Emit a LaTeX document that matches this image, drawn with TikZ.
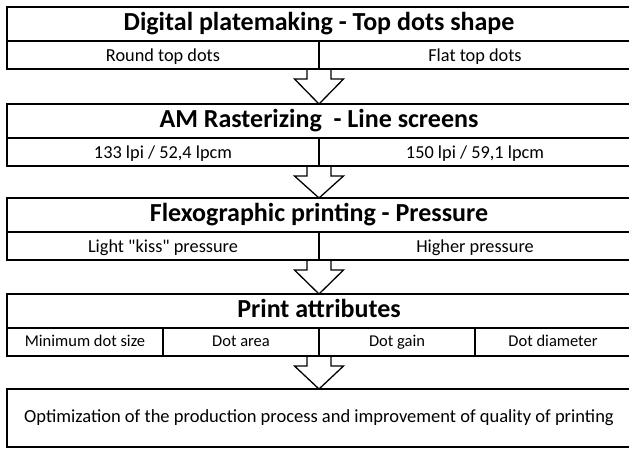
\documentclass[tikz,border=0pt]{standalone}
\usepackage{fontspec}
\setmainfont{Carlito}[Ligatures={Common,TeXOff}]
\usetikzlibrary{calc}
\tikzset{
  box/.style={draw=black, line width=1.8pt, inner sep=0pt, outer sep=0pt, anchor=north west},
  head/.style={box, minimum width=624pt, minimum height=34pt, text height=16pt, text depth=4pt,
    font=\fontsize{26}{28}\selectfont\bfseries},
  half/.style={box, minimum width=312pt, minimum height=28pt, text height=14pt, text depth=0.6pt,
    font=\fontsize{18.3}{20}\selectfont},
  quarter/.style={box, minimum width=156pt, minimum height=28pt, text height=11pt, text depth=1.6pt,
    font=\fontsize{16.5}{18}\selectfont},
  result/.style={box, minimum width=624pt, minimum height=58pt, font=\fontsize{18.5}{21}\selectfont},
  flow/.style={draw=black, line width=1.3pt, line join=miter},
}
% Hollow down-arrow from the bottom middle of one block (#1) to the top of the next (#2)
\newcommand{\flowarrow}[2]{%
  \draw[flow] ($(#1)+(-12,0)$) -- ($(#1)+(-12,10)$) -- ($(#1)+(-24.5,10)$) -- (#2)
    -- ($(#1)+(24.5,10)$) -- ($(#1)+(12,10)$) -- ($(#1)+(12,0)$);}
\begin{document}
\begin{tikzpicture}[x=1pt, y=-1pt]
  \useasboundingbox (0,0) rectangle (629,451);
  \clip (0,0) rectangle (629,451);

  % Stage 1
  \node[head] (h1) at (7,7) {Digital platemaking - Top dots shape};
  \node[half] (r1a) at (7,41) {Round top dots};
  \node[half] (r1b) at (319,41) {Flat top dots};

  % Stage 2
  \node[head] (h2) at (7,104) {AM Rasterizing\ \ - Line screens};
  \node[half] (r2a) at (7,138) {133 lpi / 52,4 lpcm};
  \node[half] (r2b) at (319,138) {150 lpi / 59,1 lpcm};

  % Stage 3
  \node[head] (h3) at (7,198) {Flexographic printing - Pressure};
  \node[half] (r3a) at (7,232) {Light "kiss" pressure};
  \node[half] (r3b) at (319,232) {Higher pressure};

  % Stage 4
  \node[head] (h4) at (7,294) {Print attributes};
  \node[quarter] (r4a) at (7,328) {Minimum dot size};
  \node[quarter] (r4b) at (163,328) {Dot area};
  \node[quarter] (r4c) at (319,328) {Dot gain};
  \node[quarter] (r4d) at (475,328) {Dot diameter};

  % Outcome
  \node[result] (out) at (7,389) {Optimization of the production process and improvement of quality of printing};

  % Connecting arrows
  \flowarrow{r1a.south east}{h2.north}
  \flowarrow{r2a.south east}{h3.north}
  \flowarrow{r3a.south east}{h4.north}
  \flowarrow{r4b.south east}{out.north}
\end{tikzpicture}
\end{document}
